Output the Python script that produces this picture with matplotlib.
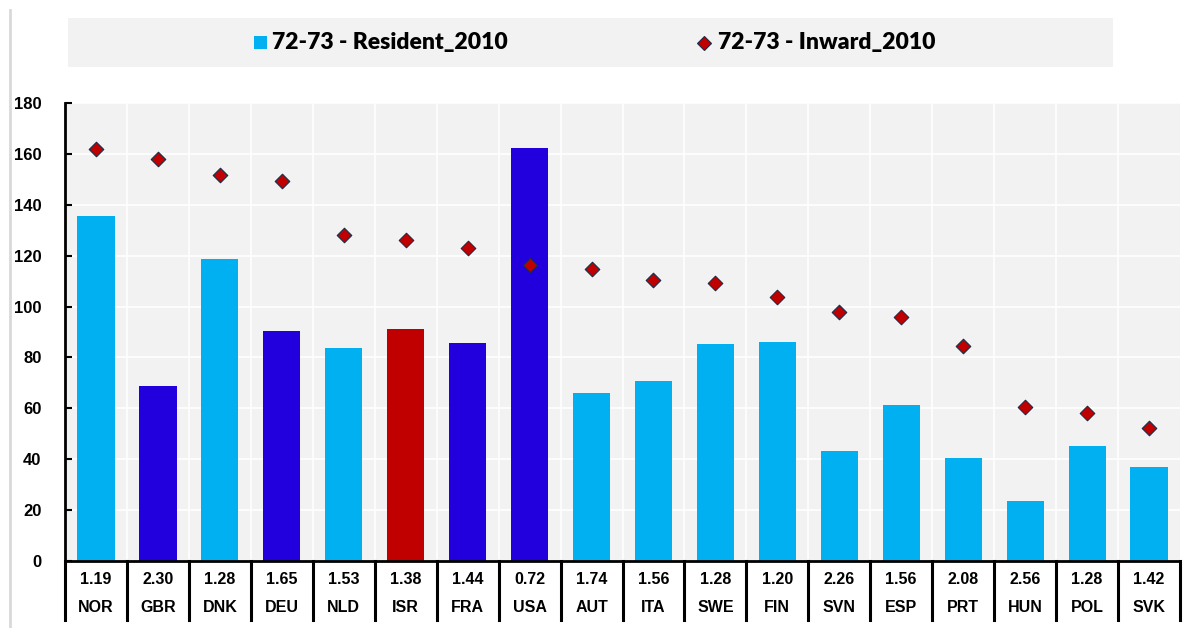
import matplotlib
matplotlib.use("Agg")
import matplotlib.pyplot as plt
from matplotlib.lines import Line2D
from matplotlib.patches import Rectangle

countries = ["NOR", "GBR", "DNK", "DEU", "NLD", "ISR", "FRA", "USA", "AUT",
             "ITA", "SWE", "FIN", "SVN", "ESP", "PRT", "HUN", "POL", "SVK"]
ratios = ["1.19", "2.30", "1.28", "1.65", "1.53", "1.38", "1.44", "0.72", "1.74",
          "1.56", "1.28", "1.20", "2.26", "1.56", "2.08", "2.56", "1.28", "1.42"]
resident = [135.6, 68.8, 118.7, 90.4, 83.7, 91.2, 85.7, 162.3, 66.0,
            70.8, 85.3, 86.1, 43.2, 61.3, 40.5, 23.6, 45.2, 37.0]
inward = [162.0, 158.0, 151.7, 149.4, 128.1, 126.2, 123.0, 116.4, 114.8,
          110.5, 109.3, 103.8, 97.9, 95.9, 84.5, 60.5, 58.2, 52.3]
bar_group = ["light", "dark", "light", "dark", "light", "isr", "dark", "dark", "light",
             "light", "light", "light", "light", "light", "light", "light", "light", "light"]
colors_map = {"light": "#00B0F0", "dark": "#2200DD", "isr": "#C00000"}
yticks = [0, 20, 40, 60, 80, 100, 120, 140, 160, 180]

W, H = 1183, 628
fig = plt.figure(figsize=(W / 100, H / 100), dpi=100)
fig.patch.set_facecolor("white")

x0, x1 = 65, 1180
ytop, ybot = 103, 561
ax = fig.add_axes([x0 / W, (H - ybot) / H, (x1 - x0) / W, (ybot - ytop) / H])
ax.set_facecolor("#F2F2F2")

n = len(countries)
xs = list(range(n))
ax.bar(xs, resident, width=0.6, color=[colors_map[g] for g in bar_group], zorder=3)
ax.scatter(xs, inward, marker="D", s=55, color="#C00000", edgecolors="#1F2A44",
           linewidths=0.8, zorder=4)

ax.set_xlim(-0.5, n - 0.5)
ax.set_ylim(0, 180)
ax.set_yticks(yticks)
ax.set_yticklabels([str(v) for v in yticks], fontsize=12, fontweight="bold",
                   family="Liberation Sans")
ax.tick_params(axis="y", direction="in", length=5, width=1.5, pad=17)
ax.set_xticks([])
for v in yticks[1:]:
    ax.axhline(v, color="white", lw=1.2, zorder=1)
for i in range(1, n):
    ax.axvline(i - 0.5, color="white", lw=1.2, zorder=1)
for s in ["top", "right", "bottom"]:
    ax.spines[s].set_visible(False)
ax.spines["left"].set_linewidth(2)
ax.spines["left"].set_color("black")

# table below axis
trans = ax.get_xaxis_transform()
ax.plot([-0.5, n - 0.5], [0, 0], transform=trans, color="black", lw=2, clip_on=False, zorder=5)
h_tab = (620 - 561) / (ybot - ytop)
for i in range(n + 1):
    ax.plot([i - 0.5, i - 0.5], [0, -h_tab], transform=trans, color="black", lw=2.2,
            clip_on=False)
y_val = -(579 - 561) / (ybot - ytop)
y_code = -(607 - 561) / (ybot - ytop)
for i in range(n):
    ax.text(i, y_val, ratios[i], transform=trans, ha="center", va="center",
            fontsize=11.5, fontweight="bold", family="Liberation Sans")
    ax.text(i, y_code, countries[i], transform=trans, ha="center", va="center",
            fontsize=11.5, fontweight="bold", family="Liberation Sans")

# legend box
fig.patches.append(Rectangle((68 / W, (H - 67) / H), (1113 - 68) / W, (67 - 18) / H,
                             transform=fig.transFigure, facecolor="#F2F2F2",
                             edgecolor="none", zorder=0))
ly = (H - 43) / H
fig.patches.append(Rectangle((254 / W, (H - 49) / H), 13 / W, 13 / H,
                             transform=fig.transFigure, facecolor="#00B0F0",
                             edgecolor="none", zorder=1))
fig.text(272 / W, ly, "72-73 - Resident_2010", fontsize=16.5, fontweight="heavy",
         family="Lato", va="center", ha="left")
fig.lines.append(Line2D([704 / W], [ly], transform=fig.transFigure, marker="D",
                        markersize=7.5, color="#C00000", markeredgecolor="#1F2A44",
                        markeredgewidth=0.8, linestyle="none"))
fig.text(718 / W, ly, "72-73 - Inward_2010", fontsize=16.5, fontweight="heavy",
         family="Lato", va="center", ha="left")

# left frame line
fig.lines.append(Line2D([10 / W, 10 / W], [0, (H - 10) / H], transform=fig.transFigure,
                        color="#D9D9D9", lw=2))

fig.savefig("out.png", dpi=100)
